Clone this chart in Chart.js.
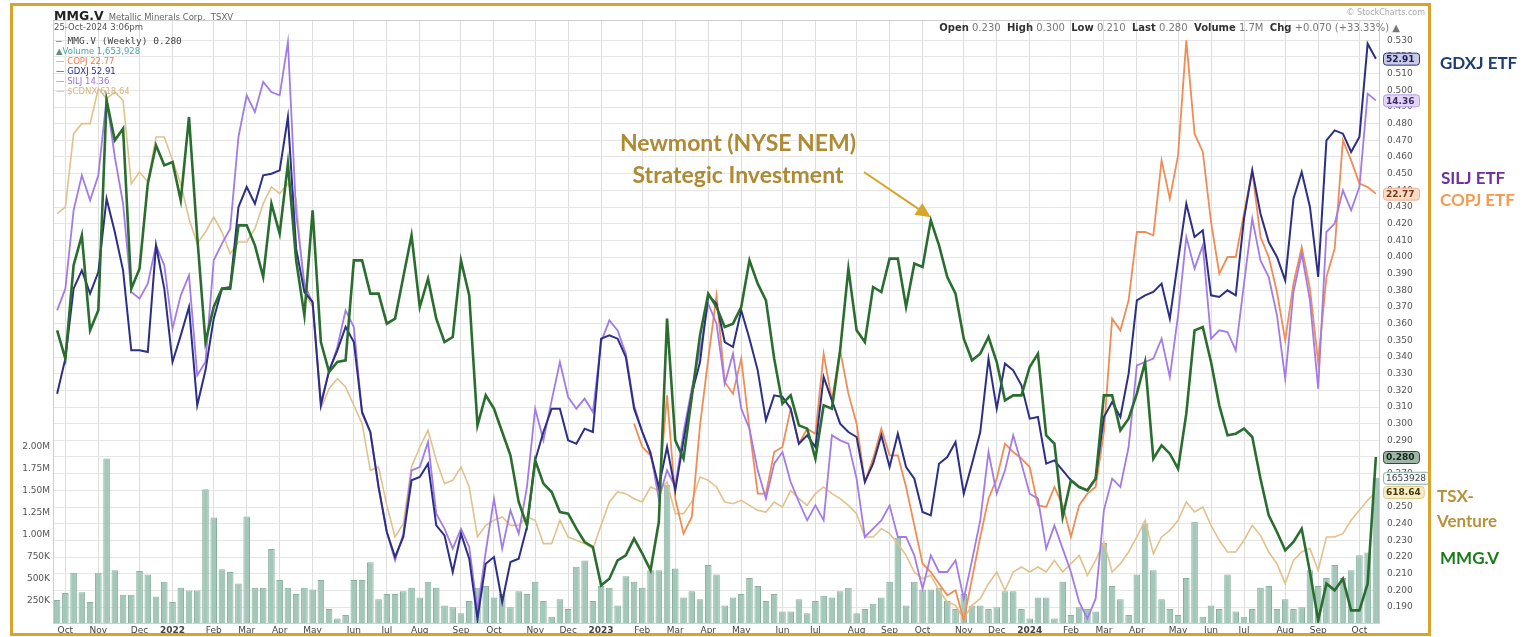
<!DOCTYPE html>
<html><head><meta charset="utf-8">
<script src="https://cdn.jsdelivr.net/npm/chart.js@4.4.1/dist/chart.umd.min.js"></script>
<style>
html,body{margin:0;padding:0;background:#fff;}
#wrap{position:relative;width:1534px;height:637px;overflow:hidden;font-family:"DejaVu Sans",sans-serif;}
#c{position:absolute;left:0;top:0;}
.frame{position:absolute;left:10px;top:3px;width:1421px;height:633px;border:3px solid #d9a42b;box-sizing:border-box;pointer-events:none;}
.t{position:absolute;white-space:nowrap;}
.lg{position:absolute;left:56px;font-size:8.5px;white-space:nowrap;line-height:10px;}
.side{position:absolute;font-family:Lato,"Open Sans",sans-serif;font-weight:bold;font-size:17px;white-space:nowrap;line-height:20px;}
.ann{position:absolute;left:588px;width:300px;text-align:center;font-family:Lato,"Open Sans",sans-serif;font-weight:bold;font-size:23px;color:#ad8a33;line-height:32px;}
</style></head><body>
<div id="wrap">
<canvas id="c" width="1534" height="637"></canvas>
<div class="frame"></div>
<div class="t" style="left:54px;top:5px;"><b style="font-size:12.5px;color:#222;">MMG.V</b> <span style="font-size:8.5px;color:#666;">Metallic Minerals Corp.&nbsp; TSXV</span></div>
<div class="t" style="left:54px;top:22px;font-size:8.5px;color:#555;">25-Oct-2024 3:06pm</div>
<div class="lg" style="top:36px;color:#444;font-family:'DejaVu Sans Mono',monospace;font-size:9.5px;"><span style="color:#2a6e2f">&#8212;</span> MMG.V (Weekly) 0.280</div>
<div class="lg" style="top:46px;color:#4aa6a6;"><span style="color:#6a8c80">&#9650;</span>Volume 1,653,928</div>
<div class="lg" style="top:56px;color:#ec7c45;">&#8212; COPJ 22.77</div>
<div class="lg" style="top:66px;color:#2b2f86;">&#8212; GDXJ 52.91</div>
<div class="lg" style="top:76px;color:#9a6ee6;">&#8212; SILJ 14.36</div>
<div class="lg" style="top:86px;color:#d8b676;">&#8212; $CDNX 618.64</div>
<div class="t" style="right:109px;top:8px;font-size:8px;color:#aaa;">&#169; StockCharts.com</div>
<div class="t" style="right:134px;top:22px;font-size:10px;color:#777;"><b style="color:#333">Open</b> 0.230 &nbsp;<b style="color:#333">High</b> 0.300 &nbsp;<b style="color:#333">Low</b> 0.210 &nbsp;<b style="color:#333">Last</b> 0.280 &nbsp;<b style="color:#333">Volume</b> 1.7M &nbsp;<b style="color:#333">Chg</b> +0.070 (+33.33%) &#9650;</div>
<div class="ann" style="top:126px;">Newmont (NYSE NEM)</div>
<div class="ann" style="top:158px;">Strategic Investment</div>
<div class="side" style="left:1440px;top:53px;color:#1f3c6e;">GDXJ ETF</div>
<div class="side" style="left:1441px;top:168px;color:#7030a0;">SILJ ETF</div>
<div class="side" style="left:1440px;top:190px;color:#f59a52;">COPJ ETF</div>
<div class="side" style="left:1437px;top:486px;color:#b8923a;">TSX-</div>
<div class="side" style="left:1437px;top:511px;color:#b8923a;">Venture</div>
<div class="side" style="left:1440px;top:548px;color:#1a7a1a;">MMG.V</div>
</div>
<script>
// ---- DATA (weekly closes; weeks labelled by their Monday, Sep 27 2021 .. Oct 21 2024) ----
const START_DATE = '2021-09-27';
const mmg = [0.356,0.339,0.395,0.413,0.356,0.368,0.494,0.470,0.477,0.381,
0.393,0.444,0.467,0.455,0.457,0.434,0.484,0.412,0.349,0.370,
0.381,0.381,0.419,0.419,0.407,0.388,0.432,0.414,0.456,0.398,
0.365,0.428,0.349,0.331,0.337,0.338,0.398,0.398,0.378,0.378,
0.360,0.363,0.388,0.413,0.370,0.387,0.363,0.349,0.352,0.398,
0.377,0.299,0.317,0.309,0.295,0.281,0.253,0.239,0.278,0.264,
0.259,0.247,0.246,0.237,0.229,0.226,0.203,0.207,0.218,0.221,
0.231,0.222,0.212,0.241,0.363,0.290,0.279,0.316,0.353,0.378,
0.370,0.358,0.360,0.370,0.398,0.384,0.374,0.339,0.312,0.317,
0.299,0.297,0.279,0.311,0.309,0.344,0.393,0.356,0.349,0.382,
0.379,0.399,0.399,0.370,0.396,0.394,0.422,0.407,0.388,0.378,
0.351,0.338,0.342,0.352,0.337,0.314,0.317,0.317,0.334,0.342,
0.293,0.288,0.244,0.266,0.262,0.260,0.267,0.317,0.317,0.296,
0.303,0.318,0.337,0.279,0.287,0.282,0.273,0.306,0.356,0.358,
0.337,0.311,0.293,0.294,0.297,0.292,0.267,0.245,0.235,0.224,
0.229,0.237,0.211,0.182,0.204,0.200,0.207,0.188,0.188,0.204,
0.280];
const gdxj = [0.318,0.339,0.381,0.392,0.378,0.391,0.435,0.415,0.392,0.344,
0.344,0.343,0.407,0.381,0.337,0.353,0.370,0.311,0.332,0.363,
0.381,0.382,0.430,0.442,0.432,0.449,0.450,0.452,0.484,0.405,
0.379,0.373,0.311,0.332,0.344,0.358,0.349,0.307,0.295,0.262,
0.235,0.220,0.232,0.266,0.268,0.276,0.239,0.233,0.211,0.234,
0.219,0.183,0.216,0.220,0.193,0.217,0.219,0.238,0.278,0.295,
0.309,0.309,0.290,0.288,0.297,0.295,0.351,0.353,0.351,0.340,
0.309,0.295,0.282,0.262,0.286,0.260,0.290,0.318,0.337,0.377,
0.372,0.349,0.346,0.368,0.351,0.332,0.302,0.317,0.316,0.309,
0.288,0.293,0.286,0.328,0.314,0.300,0.295,0.292,0.265,0.276,
0.293,0.274,0.294,0.274,0.267,0.247,0.245,0.276,0.280,0.289,
0.258,0.276,0.295,0.339,0.309,0.336,0.332,0.323,0.303,0.304,
0.276,0.278,0.272,0.266,0.262,0.260,0.267,0.304,0.313,0.304,
0.330,0.374,0.377,0.379,0.384,0.363,0.398,0.432,0.412,0.416,
0.377,0.376,0.380,0.377,0.423,0.452,0.426,0.409,0.400,0.386,
0.435,0.451,0.430,0.388,0.470,0.476,0.474,0.463,0.472,0.528,
0.519];
const silj = [0.368,0.381,0.428,0.449,0.434,0.449,0.495,0.460,0.432,0.379,
0.375,0.384,0.407,0.395,0.357,0.377,0.389,0.329,0.337,0.398,
0.408,0.417,0.472,0.497,0.487,0.505,0.499,0.497,0.529,0.426,
0.384,0.372,0.313,0.331,0.346,0.368,0.358,0.306,0.295,0.262,
0.235,0.218,0.234,0.272,0.274,0.289,0.246,0.237,0.225,0.237,
0.226,0.188,0.223,0.255,0.225,0.248,0.234,0.262,0.309,0.290,
0.314,0.337,0.316,0.309,0.315,0.307,0.349,0.362,0.356,0.342,
0.311,0.295,0.283,0.255,0.272,0.262,0.295,0.321,0.344,0.372,
0.360,0.324,0.342,0.309,0.297,0.272,0.255,0.276,0.283,0.265,
0.253,0.242,0.251,0.242,0.293,0.290,0.288,0.267,0.232,0.237,
0.242,0.251,0.232,0.232,0.221,0.201,0.221,0.211,0.211,0.218,
0.195,0.218,0.242,0.283,0.258,0.272,0.293,0.276,0.258,0.255,
0.225,0.239,0.225,0.211,0.193,0.183,0.195,0.248,0.267,0.262,
0.286,0.335,0.337,0.339,0.351,0.328,0.365,0.412,0.393,0.407,
0.351,0.356,0.355,0.344,0.384,0.423,0.398,0.388,0.365,0.327,
0.379,0.402,0.374,0.321,0.415,0.420,0.440,0.428,0.442,0.498,
0.494];
// COPJ starts trading in Feb 2023 (week index 70)
const copjStartIndex = 70;
const copjValues = [0.300,0.286,0.281,0.260,0.317,0.255,0.234,0.244,0.299,0.339,
0.377,0.325,0.318,0.339,0.297,0.258,0.258,0.283,0.286,0.309,
0.288,0.297,0.294,0.342,0.314,0.344,0.318,0.300,0.265,0.279,
0.297,0.281,0.281,0.262,0.239,0.216,0.211,0.204,0.197,0.200,
0.182,0.207,0.232,0.255,0.267,0.288,0.283,0.279,0.274,0.251,
0.250,0.262,0.251,0.232,0.251,0.258,0.262,0.295,0.363,0.356,
0.374,0.415,0.415,0.413,0.458,0.435,0.461,0.530,0.474,0.463,
0.421,0.390,0.400,0.400,0.426,0.452,0.412,0.400,0.379,0.350,
0.384,0.406,0.381,0.337,0.388,0.405,0.470,0.458,0.444,0.442,
0.438];
const cdnx = [0.426,0.430,0.474,0.480,0.480,0.501,0.495,0.499,0.494,0.444,
0.451,0.445,0.472,0.472,0.458,0.444,0.423,0.408,0.415,0.424,
0.415,0.402,0.409,0.409,0.417,0.432,0.442,0.438,0.444,0.435,
0.379,0.370,0.309,0.321,0.327,0.322,0.311,0.300,0.272,0.274,
0.251,0.232,0.240,0.274,0.286,0.296,0.278,0.264,0.266,0.274,
0.262,0.232,0.239,0.242,0.244,0.239,0.239,0.244,0.242,0.228,
0.228,0.242,0.232,0.230,0.228,0.225,0.239,0.253,0.259,0.258,
0.255,0.253,0.262,0.260,0.265,0.246,0.246,0.253,0.268,0.266,
0.262,0.253,0.252,0.254,0.251,0.248,0.247,0.253,0.250,0.260,
0.255,0.251,0.258,0.262,0.258,0.255,0.251,0.246,0.232,0.232,
0.237,0.234,0.228,0.221,0.211,0.207,0.209,0.200,0.193,0.191,
0.183,0.191,0.195,0.204,0.211,0.200,0.211,0.214,0.211,0.214,
0.211,0.218,0.211,0.216,0.221,0.209,0.218,0.229,0.211,0.216,
0.223,0.232,0.242,0.222,0.232,0.236,0.242,0.253,0.247,0.250,
0.239,0.230,0.223,0.223,0.230,0.239,0.233,0.223,0.216,0.204,
0.218,0.223,0.225,0.212,0.232,0.232,0.234,0.242,0.248,0.254,
0.259];
// weekly volume, millions of shares
const volume = [0.26,0.34,0.57,0.35,0.24,0.57,1.87,0.60,0.32,0.32,
0.59,0.55,0.30,0.47,0.24,0.40,0.37,0.37,1.52,1.20,
0.61,0.58,0.45,1.21,0.40,0.40,0.84,0.49,0.40,0.33,
0.40,0.38,0.49,0.16,0.05,0.09,0.49,0.49,0.69,0.27,
0.33,0.33,0.36,0.40,0.29,0.47,0.40,0.20,0.18,0.11,
0.25,0.40,0.42,0.29,0.33,0.18,0.36,0.33,0.47,0.25,
0.07,0.27,0.16,0.64,0.71,0.25,0.42,0.40,0.20,0.53,
0.47,0.40,0.60,0.60,1.57,0.62,0.29,0.36,0.27,0.66,
0.55,0.20,0.29,0.33,0.51,0.42,0.25,0.33,0.13,0.13,
0.27,0.11,0.25,0.31,0.29,0.36,0.40,0.11,0.16,0.22,
0.29,0.47,0.97,0.20,0.47,0.38,0.38,0.40,0.25,0.16,
0.33,0.20,0.20,0.16,0.18,0.36,0.36,0.16,0.05,0.29,
0.29,0.05,0.47,0.09,0.18,0.16,0.13,0.91,0.42,0.27,
0.09,0.55,1.13,0.60,0.27,0.16,0.09,0.51,1.15,0.07,
0.20,0.16,0.55,0.13,0.07,0.16,0.40,0.42,0.16,0.27,
0.16,0.18,0.60,0.42,0.51,0.66,0.51,0.60,0.77,0.80,
1.65];
const volumeTicks = [0.25,0.5,0.75,1.0,1.25,1.5,1.75,2.0];
const monthNames = ['Jan','Feb','Mar','Apr','May','Jun','Jul','Aug','Sep','Oct','Nov','Dec'];
const lastTags = [
  {series:'gdxj', text:'52.91', fill:'#c9cbe6', stroke:'#2b2f86', color:'#1a1d5c'},
  {series:'silj', text:'14.36', fill:'#e3d5f7', stroke:'#b79be8', color:'#3c2a66'},
  {series:'copj', text:'22.77', fill:'#fbdcc8', stroke:'#f2b08a', color:'#7a3a12'},
  {series:'mmg',  text:'0.280', fill:'#9fb5a8', stroke:'#2a4e35', color:'#10261a'},
  {series:'volume', text:'1653928', fill:'#f4f8f6', stroke:'#8fb3a5', color:'#445'},
  {series:'cdnx', text:'618.64', fill:'#f6edc9', stroke:'#e0cc8a', color:'#4a3a10'}
];
const NEWMONT_WEEK = 106;

// ---- build ----
const startMs = Date.parse(START_DATE + 'T00:00:00Z');
const weeks = mmg.map((_, i) => new Date(startMs + i * 7 * 86400000));
const labels = weeks.map(d => d.toISOString().slice(0, 10));
const copj = new Array(copjStartIndex).fill(null).concat(copjValues);
const seriesMap = {mmg, gdxj, silj, copj, cdnx, volume};

function monthLabel(i) {
  const d = weeks[i];
  if (!d) return null;
  if (i > 0 && weeks[i - 1].getUTCMonth() === d.getUTCMonth()) return null;
  if (i === 0) return null;
  return d.getUTCMonth() === 0 ? String(d.getUTCFullYear()) : monthNames[d.getUTCMonth()];
}

const overlay = {
  id: 'overlay',
  beforeDatasetsDraw(chart) {
    const {ctx, chartArea: a} = chart;
    ctx.save();
    ctx.strokeStyle = '#cfcfcf';
    ctx.lineWidth = 1;
    ctx.strokeRect(a.left + 0.5, a.top + 0.5, a.right - a.left - 1, a.bottom - a.top);
    ctx.restore();
  },
  afterDatasetsDraw(chart) {
    const {ctx, scales} = chart;
    const tx = scales.x.getPixelForValue(NEWMONT_WEEK);
    const ty = scales.y.getPixelForValue(mmg[NEWMONT_WEEK]) - 3;
    const sx = 864, sy = 172;
    const ang = Math.atan2(ty - sy, tx - sx);
    const hl = 15, hw = 7;
    const bx = tx - hl * Math.cos(ang), by = ty - hl * Math.sin(ang);
    ctx.save();
    ctx.strokeStyle = '#d9a42b';
    ctx.fillStyle = '#d9a42b';
    ctx.lineWidth = 2;
    ctx.beginPath(); ctx.moveTo(sx, sy); ctx.lineTo(bx, by); ctx.stroke();
    ctx.beginPath();
    ctx.moveTo(tx, ty);
    ctx.lineTo(bx + hw * Math.sin(ang), by - hw * Math.cos(ang));
    ctx.lineTo(bx - hw * Math.sin(ang), by + hw * Math.cos(ang));
    ctx.closePath(); ctx.fill();
    ctx.restore();
  },
  afterDraw(chart) {
    const {ctx, scales, chartArea: a} = chart;
    ctx.save();
    lastTags.forEach(t => {
      const arr = seriesMap[t.series];
      const v = arr[arr.length - 1];
      const yp = t.series === 'volume' ? scales.yv.getPixelForValue(v) : scales.y.getPixelForValue(v);
      ctx.font = (t.series === 'volume' ? '' : 'bold ') + '9px "DejaVu Sans"';
      const w = Math.max(36, ctx.measureText(t.text).width + 6);
      const x = a.right + 3, h = 12;
      ctx.fillStyle = t.fill; ctx.strokeStyle = t.stroke; ctx.lineWidth = 1;
      ctx.beginPath();
      if (ctx.roundRect) ctx.roundRect(x + 0.5, yp - h / 2 + 0.5, w, h, 3); else ctx.rect(x + 0.5, yp - h / 2 + 0.5, w, h);
      ctx.fill(); ctx.stroke();
      ctx.fillStyle = t.color; ctx.textBaseline = 'middle'; ctx.textAlign = 'left';
      ctx.fillText(t.text, x + 3, yp + 1);
    });
    ctx.restore();
  }
};

new Chart(document.getElementById('c'), {
  type: 'bar',
  data: {
    labels,
    datasets: [
      {type:'line', label:'MMG.V', data:mmg, yAxisID:'y', borderColor:'#2a6e2f', borderWidth:2.6, pointRadius:0, tension:0, order:0},
      {type:'line', label:'GDXJ', data:gdxj, yAxisID:'y', borderColor:'#2b2f86', borderWidth:2, pointRadius:0, tension:0, order:1},
      {type:'line', label:'SILJ', data:silj, yAxisID:'y', borderColor:'#a27be9', borderWidth:1.8, pointRadius:0, tension:0, order:2},
      {type:'line', label:'COPJ', data:copj, yAxisID:'y', borderColor:'#f08c55', borderWidth:1.8, pointRadius:0, tension:0, spanGaps:false, order:3},
      {type:'line', label:'$CDNX', data:cdnx, yAxisID:'y', borderColor:'#e2c18a', borderWidth:1.6, pointRadius:0, tension:0, order:4},
      {type:'bar', label:'Volume', data:volume, yAxisID:'yv', backgroundColor:'#a3c7b9', borderColor:'#89b0a1', borderWidth:{top:1,left:1,right:1,bottom:0}, barPercentage:0.8, categoryPercentage:1, order:10}
    ]
  },
  options: {
    responsive:false, animation:false, devicePixelRatio:1,
    layout:{padding:{left:8, right:104, top:20, bottom:0}},
    plugins:{legend:{display:false}, tooltip:{enabled:false}},
    scales:{
      x:{
        offset:true,
        afterFit(s){ s.height = 14; },
        grid:{offset:false, color:'#dedede', drawTicks:false},
        border:{display:false},
        ticks:{autoSkip:false, maxRotation:0, padding:2, color:'#444',
          font:(c)=>({family:'DejaVu Sans', size:9, weight:(c.tick && /^\d{4}$/.test(c.tick.label)) ? 'bold' : 'normal'}),
          callback:(v, i)=>monthLabel(i)}
      },
      y:{
        position:'right', min:0.1804, max:0.5422,
        afterFit(s){ s.width = 50; },
        grid:{color:'#e6e6e6', drawTicks:false},
        border:{display:false},
        ticks:{stepSize:0.01, includeBounds:false, padding:7, color:'#555', font:{family:'DejaVu Sans', size:9},
          callback:(v)=> v > 0.535 ? null : v.toFixed(3)}
      },
      yv:{
        position:'left', min:0, max:6.852,
        afterFit(s){ s.width = 45; },
        afterBuildTicks(s){ s.ticks = volumeTicks.map(v=>({value:v})); },
        grid:{display:false, drawTicks:false},
        border:{display:false},
        ticks:{padding:3, color:'#555', font:{family:'DejaVu Sans', size:9},
          callback:(v)=> v < 1 ? Math.round(v*1000) + 'K' : v.toFixed(2) + 'M'}
      }
    }
  },
  plugins:[overlay]
});
</script>
</body></html>
